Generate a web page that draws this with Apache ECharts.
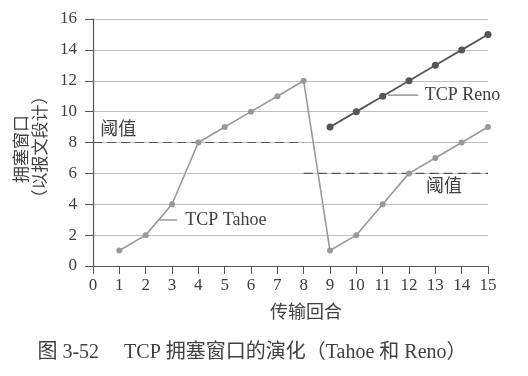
<!DOCTYPE html>
<html><head><meta charset="utf-8">
<script src="https://cdn.jsdelivr.net/npm/echarts@6/dist/echarts.min.js"></script>
<style>html,body{margin:0;padding:0;background:#fff}#c{width:528px;height:376px}</style>
</head><body><div id="c"></div>
<script>
// data
var tahoeRounds = [1,2,3,4,5,6,7,8,9,10,11,12,13,14,15];
var tahoeCwnd   = [1,2,4,8,9,10,11,12,1,2,4,6,7,8,9];
var renoRounds  = [9,10,11,12,13,14,15];
var renoCwnd    = [9,10,11,12,13,14,15];
var threshold1  = [[0,8],[8,8]];
var threshold2  = [[8,6],[15,6]];
var xTicks = [0,1,2,3,4,5,6,7,8,9,10,11,12,13,14,15];
var yTicks = [0,2,4,6,8,10,12,14,16];
var yName1 = '拥塞窗口', yName2 = '（以报文段计）';
var xName = '传输回合';
var caption = '图 3-52　 TCP 拥塞窗口的演化（Tahoe 和 Reno）';
var labelTahoe = 'TCP Tahoe', labelReno = 'TCP Reno', labelThr = '阈值';

var FONT = '"Liberation Serif","Noto Sans CJK SC",serif';
var TXT = '#404040';
function pts(xs, ys){ var r=[]; for(var i=0;i<xs.length;i++) r.push([xs[i], ys[i]]); return r; }

var chart = echarts.init(document.getElementById('c'));
var option = {
  animation:false,
  grid:{left:93, right:40, top:19, bottom:110},
  xAxis:{type:'value', min:0, max:15, interval:1,
    axisLine:{lineStyle:{color:'#555', width:1.2}},
    axisTick:{inside:false, length:8, lineStyle:{color:'#555'}},
    axisLabel:{margin:11, color:TXT, fontFamily:FONT, fontSize:17},
    splitLine:{show:false}},
  yAxis:{type:'value', min:0, max:16, interval:2,
    axisLine:{show:true, lineStyle:{color:'#555', width:1.2}},
    axisTick:{show:true, length:8, lineStyle:{color:'#555'}},
    axisLabel:{margin:16, color:TXT, fontFamily:FONT, fontSize:17},
    splitLine:{lineStyle:{color:'#bdbdbd', width:1}}},
  series:[
    {type:'line', data:threshold1, symbol:'none', lineStyle:{color:'#555', type:[9,5], width:1.2}, z:1},
    {type:'line', data:threshold2, symbol:'none', lineStyle:{color:'#555', type:[9,5], width:1.2}, z:1},
    {type:'line', data:pts(tahoeRounds,tahoeCwnd), symbol:'circle', symbolSize:6,
      itemStyle:{color:'#999'}, lineStyle:{color:'#999', width:1.6}},
    {type:'line', data:pts(renoRounds,renoCwnd), symbol:'circle', symbolSize:7,
      itemStyle:{color:'#555'}, lineStyle:{color:'#555', width:1.8}},
    {type:'line', data:[[2.52,2.98],[3.2,2.98]], symbol:'none', lineStyle:{color:'#666', width:1}},
    {type:'line', data:[[11.2,11.07],[12.35,11.07]], symbol:'none', lineStyle:{color:'#666', width:1}}
  ]
};
chart.setOption(option);

function px(x,y){ return chart.convertToPixel({gridIndex:0},[x,y]); }
var pT = px(3.5,2.98), pR = px(12.6,11.07), pH1 = px(0.28,8.8), pH2 = px(12.65,5.1);
var st = function(t,x,y,al,fs){ return {type:'text', x:x, y:y, style:{text:t, fill:TXT, font:fs+'px '+FONT, textAlign:al||'left', textVerticalAlign:'middle'}}; };
chart.setOption({graphic:[
  st(labelTahoe, pT[0], pT[1], 'left', 18),
  st(labelReno, pR[0], pR[1], 'left', 18),
  st(labelThr, pH1[0], pH1[1], 'left', 18),
  st(labelThr, pH2[0], pH2[1], 'left', 18),
  {type:'text', x:23, y:149, rotation:Math.PI/2, style:{text:yName1, fill:TXT, font:'17px '+FONT, textAlign:'center', textVerticalAlign:'middle'}},
  {type:'text', x:42, y:147, rotation:Math.PI/2, style:{text:yName2, fill:TXT, font:'17px '+FONT, textAlign:'center', textVerticalAlign:'middle'}},
  st(xName, 306, 313, 'center', 18),
  st(caption, 252, 353, 'center', 20)
]});
</script></body></html>
